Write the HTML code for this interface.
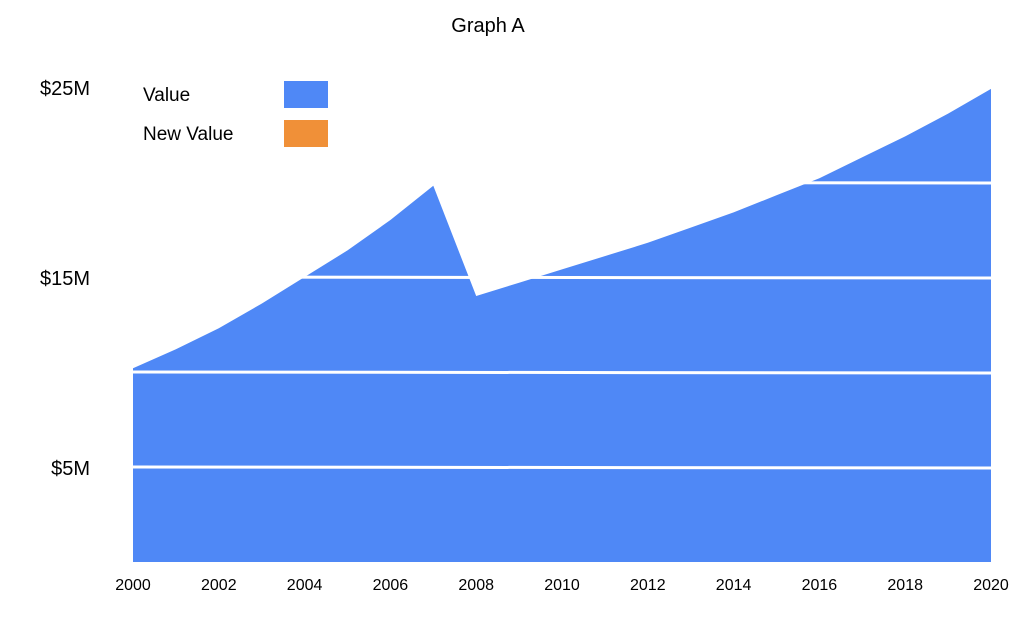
<!DOCTYPE html>
<html><head><meta charset="utf-8"><style>
body{margin:0;background:#fff;width:1024px;height:618px;overflow:hidden}
svg text{font-family:"Liberation Sans",sans-serif}
</style></head><body>
<svg width="1024" height="618">
<text x="488" y="32" font-size="20" text-anchor="middle">Graph A</text>
<g id="plot"></g>
<g id="xaxis"></g>
<g id="yaxis"></g>
<g>
<text x="143" y="101" font-size="19">Value</text>
<rect x="284" y="81" width="44" height="27" fill="#4f88f6"/>
<text x="143" y="140" font-size="19">New Value</text>
<rect x="284" y="120" width="44" height="27" fill="#f09038"/>
</g>
</svg>
<script>
const years=[2000,2001,2002,2003,2004,2005,2006,2007,2008,2009,2010,2011,2012,2013,2014,2015,2016,2017,2018,2019,2020];
const values=[10.2,11.2,12.3,13.6,15.0,16.4,18.0,19.8,14.0,14.7,15.4,16.1,16.8,17.6,18.4,19.3,20.2,21.3,22.4,23.6,24.9];
const xTicks=[2000,2002,2004,2006,2008,2010,2012,2014,2016,2018,2020];
const yTicks=[5,15,25];
const yTickLabels=["$5M","$15M","$25M"];
const gridValues=[5,10,15,20];
const NS="http://www.w3.org/2000/svg";
const x=y=>133+(y-2000)*(991-133)/20;
const yS=v=>562-v*19;
const plot=document.getElementById('plot');
let d=`M${x(years[0])},${yS(0)}`;
years.forEach((yr,i)=>{d+=` L${x(yr)},${yS(values[i])}`;});
d+=` L${x(years[years.length-1])},${yS(0)} Z`;
const area=document.createElementNS(NS,'path');
area.setAttribute('d',d);area.setAttribute('fill','#4f88f6');


plot.appendChild(area);
gridValues.forEach(v=>{
const l=document.createElementNS(NS,'line');
l.setAttribute('x1',x(2000));l.setAttribute('x2',x(2020));
l.setAttribute('y1',yS(v));l.setAttribute('y2',yS(v)+1);
l.setAttribute('stroke','#fff');l.setAttribute('stroke-width','3');


plot.appendChild(l);});
const xa=document.getElementById('xaxis');
xTicks.forEach(t=>{
const e=document.createElementNS(NS,'text');
e.setAttribute('x',x(t));e.setAttribute('y',590);e.setAttribute('font-size','16');
e.setAttribute('text-anchor','middle');e.textContent=t;


xa.appendChild(e);});
const ya=document.getElementById('yaxis');
yTicks.forEach((t,i)=>{
const e=document.createElementNS(NS,'text');
e.setAttribute('x',90);e.setAttribute('y',yS(t)+8);e.setAttribute('font-size','20');
e.setAttribute('text-anchor','end');e.textContent=yTickLabels[i];


ya.appendChild(e);});
</script>
</body></html>
